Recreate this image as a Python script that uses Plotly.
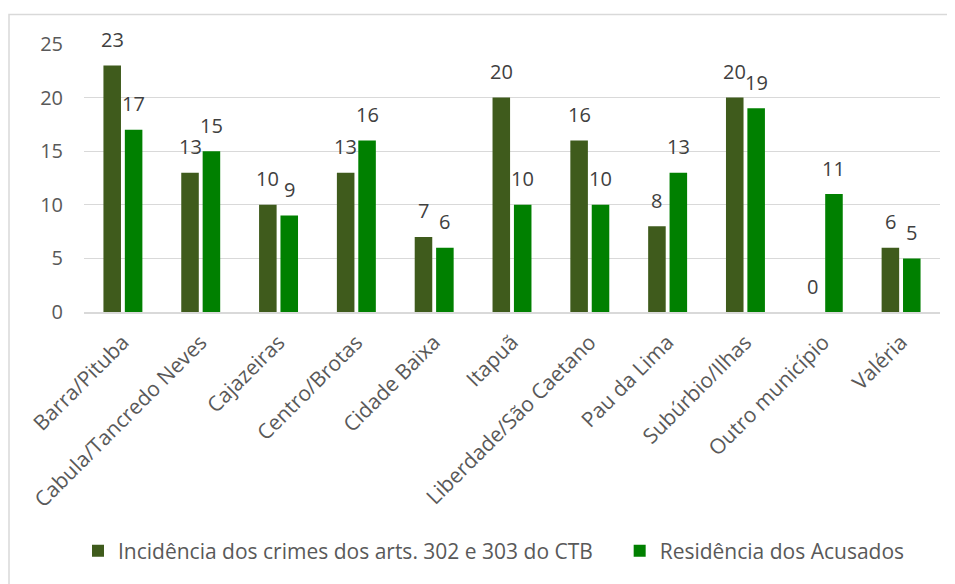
import plotly.graph_objects as go

categories = ["Barra/Pituba", "Cabula/Tancredo Neves", "Cajazeiras", "Centro/Brotas",
              "Cidade Baixa", "Itapuã", "Liberdade/São Caetano", "Pau da Lima",
              "Subúrbio/Ilhas", "Outro município", "Valéria"]
incidencia = [23, 13, 10, 13, 7, 20, 16, 8, 20, 0, 6]
residencia = [17, 15, 9, 16, 6, 10, 10, 13, 19, 11, 5]
series_names = ["Incidência dos crimes dos arts. 302 e 303 do CTB", "Residência dos Acusados"]
y_ticks = [0, 5, 10, 15, 20, 25]

OFF = 8  # page body margin
W, H = 955 - OFF, 584 - OFF
ML, MT = 84 - OFF, 44 - OFF
MR = 955 - 940
MB = 584 - 312
FONT = "Open Sans"
FS = 20

fig = go.Figure()
fig.add_bar(x=categories, y=incidencia, name=series_names[0] + "\u00a0" * 4,
            marker=dict(color="#3F5B1C", line=dict(width=0)))
fig.add_bar(x=categories, y=residencia, name=series_names[1],
            marker=dict(color="#008000", line=dict(width=0)))

annotations = []
for vals, xs in ((incidencia, -10.7), (residencia, 10.7)):
    for c, v in zip(categories, vals):
        annotations.append(dict(x=c, y=v, text=str(v), showarrow=False,
                                xshift=xs, yshift=26, yanchor="middle",
                                font=dict(family=FONT, size=FS, color="#404040")))

pw = W - ML - MR
ph = H - MT - MB
fig.update_layout(
    width=W, height=H,
    margin=dict(l=ML, r=MR, t=MT, b=MB, pad=0),
    paper_bgcolor="white", plot_bgcolor="white",
    barmode="group", bargap=0.45, bargroupgap=0.18,
    font=dict(family=FONT, size=FS, color="#595959"),
    showlegend=True,
    legend=dict(orientation="h", x=-6 / pw, xanchor="left", y=-(551 - 312) / ph,
                yanchor="middle", font=dict(family=FONT, size=21, color="#595959"),
                itemsizing="constant", traceorder="normal", itemwidth=30),
    annotations=annotations,
    shapes=[dict(type="rect", xref="paper", yref="paper",
                 x0=(9 - OFF - ML) / pw, x1=(W + 40 - ML) / pw,
                 y0=-(H + 40 - MT - ph) / ph, y1=1 + (MT - (14.5 - OFF)) / ph,
                 line=dict(color="#d9d9d9", width=1.5), layer="below")],
    xaxis=dict(type="category", tickangle=-45, showgrid=False, showline=True,
               linecolor="#d9d9d9", linewidth=1.5, ticks="",
               ticklabelstandoff=8,
               tickfont=dict(family=FONT, size=21, color="#595959")),
    yaxis=dict(range=[0, 25], tickvals=y_ticks, showgrid=True, gridcolor="#d9d9d9",
               gridwidth=1.3, zeroline=False, showline=False, ticks="",
               ticklabelstandoff=20,
               tickfont=dict(family=FONT, size=FS, color="#595959")),
)

fig.write_html("out.html")
